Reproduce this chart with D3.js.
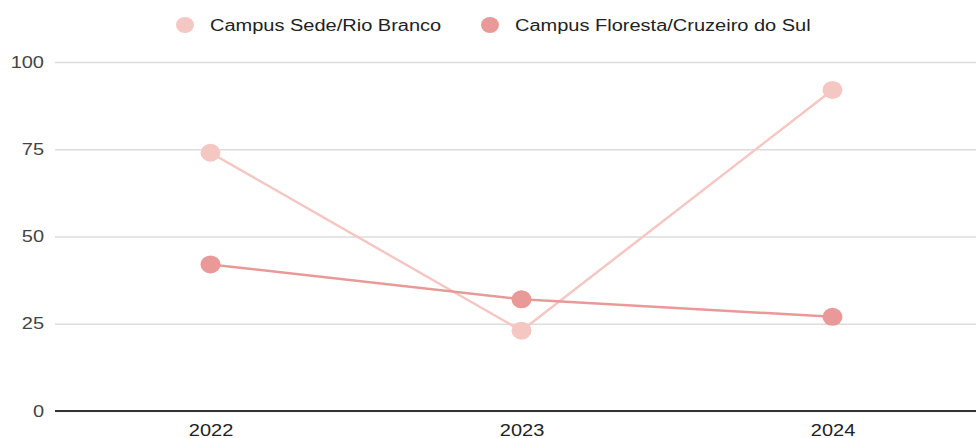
<!DOCTYPE html>
<html>
<head>
<meta charset="utf-8">
<script src="https://cdn.jsdelivr.net/npm/d3@7"></script>
<style>
  body { margin: 0; background: #fff; }
  text { font-family: "Liberation Sans", Arial, sans-serif; }
</style>
</head>
<body>
<div id="chart"></div>
<script>
// data
var years = ["2022", "2023", "2024"];
var seriesNames = ["Campus Sede/Rio Branco", "Campus Floresta/Cruzeiro do Sul"];
var sedeValues = [74, 23, 92];
var florestaValues = [42, 32, 27];
var yTicks = [0, 25, 50, 75, 100];
var colors = ["#f4c7c3", "#ea9999"];

var svgwidth = 976, svgheight = 438;
var margin = {top: 62, right: -12, bottom: 27, left: 55},
    width = svgwidth - margin.left - margin.right,
    height = svgheight - margin.top - margin.bottom;

// the source picture is stretched sideways a bit
var stretch = 1.25;

var series = [
  {name: seriesNames[0], values: sedeValues, color: colors[0]},
  {name: seriesNames[1], values: florestaValues, color: colors[1]}
];

function widen(sel) {
  sel.each(function() {
    var len = this.getComputedTextLength();
    d3.select(this)
      .attr("textLength", len * stretch)
      .attr("lengthAdjust", "spacingAndGlyphs");
  });
}

var svg = d3.select("#chart").append("svg")
    .attr("width", svgwidth)
    .attr("height", svgheight);

var g = svg.append("g")
    .attr("transform", "translate(" + margin.left + "," + margin.top + ")");

var x = d3.scalePoint().domain(years).range([0, width]).padding(0.5);
var y = d3.scaleLinear().domain([0, 100]).range([height, 0]);

// gridlines + y labels
var yAxis = d3.axisLeft(y).tickValues(yTicks).tickSize(-width).tickPadding(12);
g.append("g")
    .attr("class", "y axis")
    .call(yAxis)
    .call(function(s) {
      s.select(".domain").remove();
      s.selectAll(".tick line").attr("stroke", "#dcdcdc").attr("stroke-width", 1.5);
      s.selectAll(".tick text").attr("fill", "#444").style("font-size", "16px")
        .attr("x", -11).call(widen);
    });

// baseline
g.append("line")
    .attr("x1", 0).attr("x2", width)
    .attr("y1", y(0)).attr("y2", y(0))
    .attr("stroke", "#333").attr("stroke-width", 2);

// x labels
var xAxis = d3.axisBottom(x).tickSize(0).tickPadding(14);
g.append("g")
    .attr("class", "x axis")
    .attr("transform", "translate(0," + height + ")")
    .call(xAxis)
    .call(function(s) {
      s.select(".domain").remove();
      s.selectAll(".tick text").attr("fill", "#222").style("font-size", "16px").call(widen);
    });

var line = d3.line()
    .x(function(d, i) { return x(years[i]); })
    .y(function(d) { return y(d); });

series.forEach(function(s) {
  g.append("path")
      .datum(s.values)
      .attr("fill", "none")
      .attr("stroke", s.color)
      .attr("stroke-width", 2.5)
      .attr("d", line);
});

series.forEach(function(s) {
  g.selectAll(null)
      .data(s.values)
    .enter().append("ellipse")
      .attr("cx", function(d, i) { return x(years[i]); })
      .attr("cy", function(d) { return y(d); })
      .attr("rx", 10)
      .attr("ry", 9)
      .attr("fill", s.color);
});

// legend
var legendX = [185, 490];
var legend = svg.append("g").attr("class", "legend");
series.forEach(function(s, i) {
  var lg = legend.append("g").attr("transform", "translate(" + legendX[i] + ",25)");
  lg.append("ellipse").attr("rx", 9).attr("ry", 8).attr("fill", s.color);
  lg.append("text")
      .attr("x", 25)
      .attr("dy", "0.35em")
      .attr("fill", "#222")
      .style("font-size", "16px")
      .text(s.name)
      .call(widen);
});
</script>
</body>
</html>
